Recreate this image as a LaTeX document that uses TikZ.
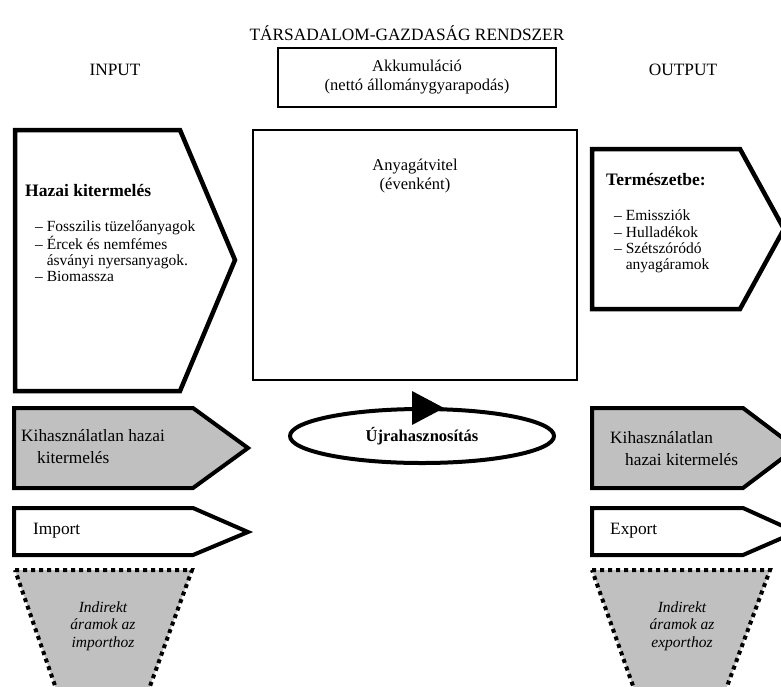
\documentclass[tikz,border=0pt]{standalone}
\usepackage{fontspec}
\setmainfont{Liberation Serif}
\usetikzlibrary{shapes.geometric}
\definecolor{fillgray}{HTML}{C0C0C0}
\tikzset{
  txt/.style={inner sep=0pt, font=\fontsize{17.3}{17.3}\selectfont},
  big/.style={inner sep=0pt, font=\fontsize{17.3}{17.3}\selectfont},
  thickshape/.style={draw=black, line width=4.5pt, line join=miter},
  thinbox/.style={draw=black, line width=1.3pt},
  dotshape/.style={draw=black, fill=fillgray, line width=4pt, dash pattern=on 4pt off 4pt},
}
\begin{document}
\begin{tikzpicture}[x=1pt,y=-1pt]
\useasboundingbox (0,0) rectangle (781,686);
\clip (0,0) rectangle (781,686);
\fill[white] (0,0) rectangle (781,686);

% title and headings
\node[big] (title) at (407,33) {TÁRSADALOM-GAZDASÁG RENDSZER};
\node[big] (input) at (115,70) {INPUT};
\node[big] (output) at (683,70) {OUTPUT};

% Akkumulacio box
\draw[thinbox] (278,48) rectangle (556,107);
\node[txt, align=center, font=\fontsize{16.5}{18.5}\selectfont] (akk) at (417,77) {Akkumuláció\\(nettó állománygyarapodás)};

% Anyagatvitel box
\draw[thinbox] (253,130) rectangle (577,380);
\node[txt, align=center, font=\fontsize{16.5}{18.5}\selectfont] (anyag) at (415,176) {Anyagátvitel\\(évenként)};

% Hazai kitermeles
\draw[thickshape, fill=white] (15,130) -- (180,130) -- (235,260) -- (180,391) -- (15,391) -- cycle;
\node[big, anchor=west, font=\fontsize{17.5}{17.5}\selectfont\bfseries] (hazai) at (25,190) {Hazai kitermelés};
\node[txt, anchor=north west, align=left, font=\fontsize{15.5}{15.7}\selectfont] (hazailist) at (35,221)
  {– Fosszilis tüzelőanyagok\\– Ércek és nemfémes\\\phantom{– }ásványi nyersanyagok.\\– Biomassza};

% Termeszetbe
\draw[thickshape, fill=white] (592,149) -- (740,149) -- (784,229) -- (740,309) -- (592,309) -- cycle;
\node[big, anchor=west, font=\fontsize{17.5}{17.5}\selectfont\bfseries] (term) at (606,180) {Természetbe:};
\node[txt, anchor=north west, align=left, font=\fontsize{15.5}{16.3}\selectfont] (termlist) at (614,210)
  {– Emissziók\\– Hulladékok\\– Szétszóródó\\\phantom{– }anyagáramok};

% Kihasznalatlan (gray)
\draw[thickshape, line width=4pt, fill=fillgray] (14,408) -- (193,408) -- (248,448) -- (193,488) -- (14,488) -- cycle;
\node[txt, anchor=west] (kih1) at (21,436) {Kihasználatlan hazai};
\node[txt, anchor=west] (kih2) at (37,458) {kitermelés};
\draw[thickshape, line width=4pt, fill=fillgray] (592,408) -- (743,408) -- (796,448) -- (743,488) -- (592,488) -- cycle;
\node[txt, anchor=west] (kih3) at (610,438) {Kihasználatlan};
\node[txt, anchor=west] (kih4) at (625,460) {hazai kitermelés};

% Import / Export
\draw[thickshape, line width=4pt, fill=white] (14,508) -- (193,508) -- (248,532) -- (193,555) -- (14,555) -- cycle;
\node[txt, anchor=west] (imp) at (33,531) {Import};
\draw[thickshape, line width=4pt, fill=white] (592,508) -- (743,508) -- (796,532) -- (743,555) -- (592,555) -- cycle;
\node[txt, anchor=west] (exp) at (610,531) {Export};

% Indirect flows
\draw[dotshape] (15,570) -- (192,570) -- (145,700) -- (60,700) -- cycle;
\node[txt, align=center, font=\fontsize{15.5}{17.5}\selectfont\itshape] (indimp) at (103,626) {Indirekt\\áramok az\\importhoz};
\draw[dotshape] (592,570) -- (770,570) -- (722,700) -- (638,700) -- cycle;
\node[txt, align=center, font=\fontsize{15.5}{17.5}\selectfont\itshape] (indexp) at (682,626) {Indirekt\\áramok az\\exporthoz};

% Recycling ellipse
\node[ellipse, draw=black, line width=4pt, minimum width=264pt, minimum height=54pt, inner sep=0pt] (rec) at (422,436) {};
\node[txt, font=\fontsize{16.5}{16.5}\selectfont\bfseries] (rectxt) at (rec.center) {Újrahasznosítás};
\fill[black] (412,391) -- (444,408) -- (412,425) -- cycle;
\end{tikzpicture}
\end{document}
